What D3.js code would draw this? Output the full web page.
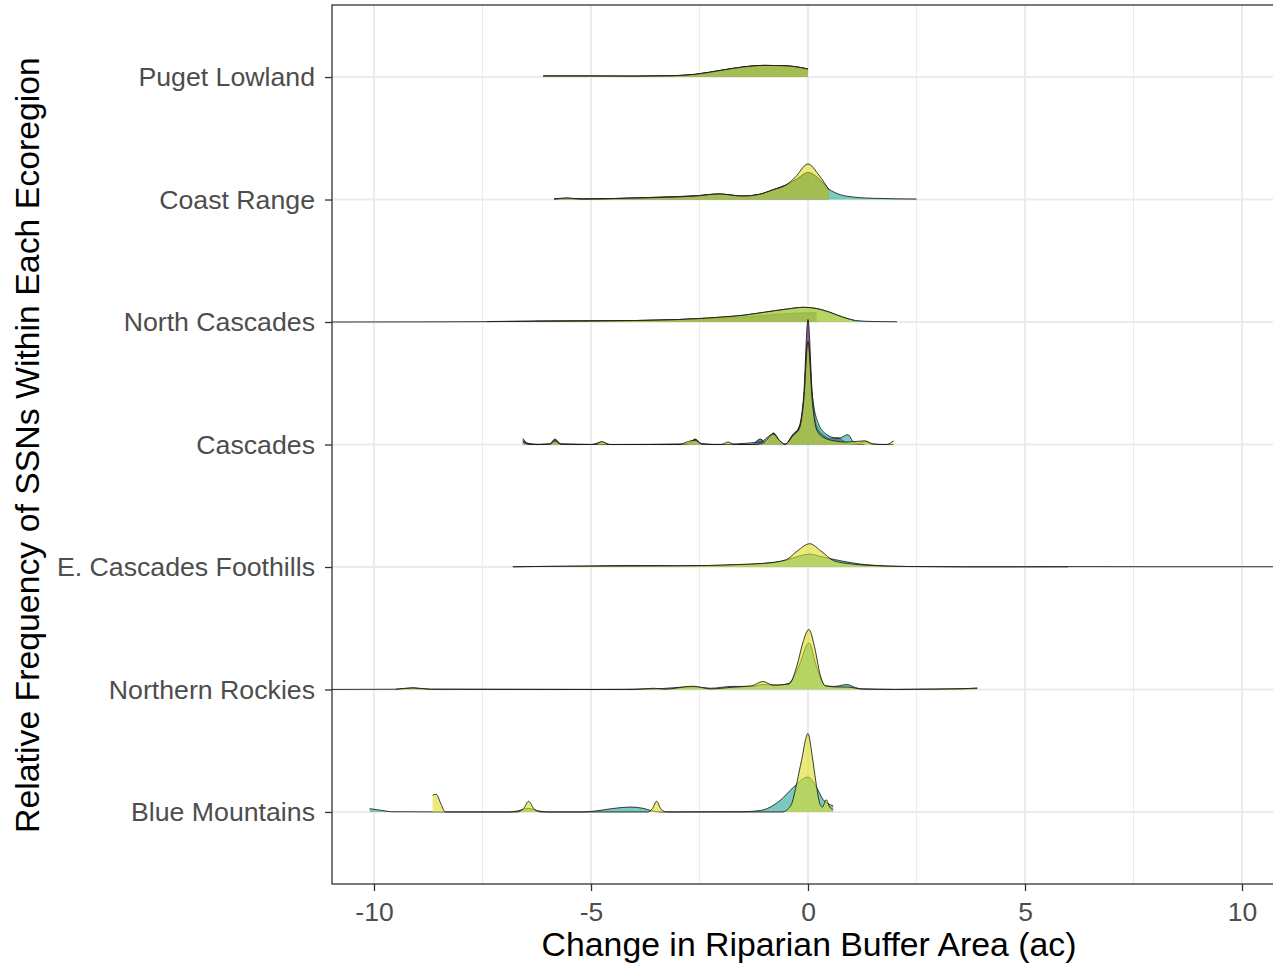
<!DOCTYPE html>
<html>
<head>
<meta charset="utf-8">
<script src="https://cdn.jsdelivr.net/npm/d3@7"></script>
<style>
  html, body { margin: 0; padding: 0; background: #fff; }
  svg { display: block; }
  text { font-family: "Liberation Sans", Arial, sans-serif; }
</style>
</head>
<body>
<svg id="chart" width="1273" height="967"></svg>
<script>
// ---------------- data ----------------
const regions = ["Puget Lowland", "Coast Range", "North Cascades", "Cascades",
                 "E. Cascades Foothills", "Northern Rockies", "Blue Mountains"];
const groups = ["Group 1", "Group 2", "Group 3"];
const groupColors = ["#440154", "#25A596", "#DEDE26"];
const xTicks = [-10, -5, 0, 5, 10];
const xMinorTicks = [-7.5, -2.5, 2.5, 7.5];

// density curves: [change (ac), height in ridge units]
const pugetCurve = [[-6.1,0.008],[-5,0.008],[-4,0.007],[-3.2,0.01],[-2.6,0.022],[-2,0.055],[-1.5,0.082],[-1,0.095],[-0.6,0.093],[-0.3,0.085],[0,0.065]];

const coastPurple = [[-5.85,0.004],[-5.55,0.01],[-5.2,0.004],[-4.6,0.007],[-3.6,0.017],[-2.6,0.03],[-2.05,0.045],[-1.5,0.028],[-1.15,0.04],[-0.8,0.08],[-0.5,0.12],[-0.25,0.17],[0,0.22],[0.25,0.17],[0.48,0.08]];
const coastTeal = [[-5.85,0.004],[-5.55,0.01],[-5.2,0.004],[-4.6,0.007],[-3.6,0.017],[-2.6,0.03],[-2.05,0.045],[-1.5,0.028],[-1.15,0.04],[-0.8,0.08],[-0.5,0.12],[-0.25,0.17],[0,0.22],[0.25,0.17],[0.48,0.085],[0.6,0.06],[0.9,0.027],[1.5,0.01],[2.5,0.004]];
const coastYellow = [[-5.85,0.004],[-5.55,0.013],[-5.2,0.004],[-4.6,0.007],[-3.6,0.015],[-2.6,0.028],[-2.05,0.045],[-1.5,0.028],[-1.15,0.04],[-0.8,0.08],[-0.5,0.12],[-0.3,0.18],[0,0.29],[0.25,0.2],[0.48,0.08]];

const ncPurple = [[-7.4,0.004],[-6.3,0.008],[-5,0.01],[-4,0.012],[-3,0.02],[-2,0.032],[-1.5,0.042],[-1,0.055],[-0.5,0.068],[0,0.075],[0.2,0.075]];
const ncTeal = [[-11,0],[-9,0.001],[-7.4,0.003],[-6.3,0.006],[-5,0.008],[-4,0.012],[-3,0.02],[-2,0.04],[-1.5,0.055],[-1,0.08],[-0.5,0.105],[-0.1,0.12],[0.2,0.11],[0.5,0.08],[0.8,0.04],[1.1,0.012],[1.5,0.004],[2.05,0.002]];
const ncYellow = [[-6.3,0.006],[-5,0.008],[-4,0.012],[-3,0.02],[-2,0.04],[-1.5,0.055],[-1,0.08],[-0.5,0.105],[-0.1,0.12],[0.2,0.11],[0.5,0.08],[0.8,0.04],[1.08,0.012]];

const casPurple = [[-6.57,0.05],[-6.45,0.01],[-6.2,0],[-5.95,0.005],[-5.83,0.045],[-5.7,0.005],[-5.3,0],[-3,0],[-2.75,0.005],[-2.6,0.045],[-2.45,0.005],[-2.2,0],[-1.3,0],[-1.1,0.045],[-0.95,0.01],[-0.8,0.095],[-0.65,0.03],[-0.53,0.002],[-0.35,0.08],[-0.2,0.15],[-0.1,0.4],[0,1.02],[0.1,0.4],[0.2,0.15],[0.35,0.08],[0.5,0.05],[0.7,0.055],[0.85,0.02],[1.0,0.005],[1.3,0]];
const casTeal = [[-6.57,0.03],[-6.45,0.005],[-6.2,0],[-5.95,0.003],[-5.83,0.03],[-5.7,0.003],[-5.0,0],[-4.75,0.02],[-4.55,0],[-2.8,0.005],[-2.6,0.04],[-2.45,0.005],[-2.2,0],[-1.1,0.02],[-0.8,0.085],[-0.65,0.03],[-0.53,0.002],[-0.35,0.08],[-0.2,0.14],[-0.1,0.35],[0,0.84],[0.1,0.4],[0.24,0.17],[0.4,0.09],[0.55,0.06],[0.7,0.05],[0.92,0.08],[1.05,0.02],[1.15,0.01],[1.31,0.025],[1.45,0.005],[1.6,0],[1.97,0]];
const casYellow = [[-6.57,0.02],[-6.4,0],[-5.95,0.003],[-5.83,0.03],[-5.7,0.003],[-4.9,0],[-4.75,0.025],[-4.6,0],[-2.95,0],[-2.8,0.02],[-2.6,0.035],[-2.45,0.005],[-2.0,0],[-1.84,0.02],[-1.7,0],[-1.2,0],[-1.0,0.02],[-0.8,0.085],[-0.65,0.03],[-0.53,0.002],[-0.35,0.07],[-0.2,0.13],[-0.1,0.35],[0,0.84],[0.1,0.35],[0.2,0.12],[0.35,0.06],[0.6,0.03],[0.9,0.02],[1.31,0.03],[1.5,0.005],[1.8,0],[1.97,0.03]];

const ecfPurple = [];
const ecfTeal = [[-6.8,0.002],[-6,0.005],[-5,0.008],[-4.3,0.012],[-3.7,0.012],[-3,0.01],[-2.3,0.012],[-1.64,0.018],[-1,0.03],[-0.5,0.055],[-0.2,0.09],[0.04,0.105],[0.3,0.085],[0.62,0.06],[1.0,0.035],[1.3,0.02],[2.3,0.004],[4,0.002],[6,0.003],[8,0.002],[11,0.002]];
const ecfYellow = [[-6.8,0.002],[-6,0.005],[-5,0.007],[-4,0.008],[-3,0.01],[-2.3,0.012],[-1.64,0.02],[-1,0.03],[-0.5,0.06],[-0.25,0.13],[0.04,0.19],[0.3,0.13],[0.6,0.05],[1.0,0.025],[1.3,0.015],[2.3,0.004],[3.5,0.001],[6,0.001]];

const nrPurple = [];
const nrTeal = [[-11,0],[-9.5,0.002],[-9.1,0.014],[-8.7,0.002],[-5,0],[-3.55,0.005],[-2.65,0.022],[-2.24,0.01],[-1.75,0.025],[-1.3,0.025],[-1.04,0.04],[-0.7,0.035],[-0.44,0.05],[-0.2,0.2],[0.02,0.38],[0.2,0.18],[0.4,0.03],[0.6,0.025],[0.9,0.04],[1.1,0.015],[1.25,0.005],[2,0.001],[3.5,0.004],[3.9,0.012]];
const nrYellow = [[-9.5,0.002],[-9.1,0.012],[-8.7,0.002],[-4,0],[-3.55,0.01],[-3.3,0.002],[-2.65,0.027],[-2.24,0.005],[-1.75,0.018],[-1.3,0.03],[-1.04,0.065],[-0.8,0.035],[-0.44,0.045],[-0.25,0.2],[-0.12,0.38],[0.02,0.49],[0.15,0.35],[0.28,0.12],[0.4,0.03],[0.7,0.02],[0.9,0.02],[1.25,0.003],[2,0],[3.9,0.01]];

const bmPurple = [];
const bmTeal = [[-10.1,0.027],[-9.8,0.012],[-9.6,0.002],[-8,0],[-6.9,0],[-6.7,0.008],[-6.45,0.03],[-6.2,0.008],[-6.0,0],[-5.2,0],[-4.9,0.008],[-4.5,0.028],[-4.1,0.04],[-3.8,0.03],[-3.6,0.01],[-3.4,0],[-1.5,0.002],[-1.1,0.012],[-0.64,0.095],[-0.34,0.2],[0,0.285],[0.2,0.2],[0.35,0.1],[0.45,0.07],[0.58,0.05]];
const bmYellow = [[-8.65,0.136],[-8.57,0.145],[-8.45,0.06],[-8.36,0],[-6.7,0],[-6.55,0.03],[-6.44,0.087],[-6.3,0.02],[-6.15,0],[-3.7,0],[-3.58,0.03],[-3.49,0.087],[-3.38,0.02],[-3.25,0],[-0.6,0],[-0.4,0.05],[-0.25,0.25],[-0.15,0.42],[0,0.64],[0.1,0.45],[0.18,0.25],[0.28,0.06],[0.33,0.04],[0.42,0.1],[0.5,0.04],[0.58,0.02]];

const curves = {
  "Puget Lowland": [pugetCurve, pugetCurve, pugetCurve],
  "Coast Range": [coastPurple, coastTeal, coastYellow],
  "North Cascades": [ncPurple, ncTeal, ncYellow],
  "Cascades": [casPurple, casTeal, casYellow],
  "E. Cascades Foothills": [ecfPurple, ecfTeal, ecfYellow],
  "Northern Rockies": [nrPurple, nrTeal, nrYellow],
  "Blue Mountains": [bmPurple, bmTeal, bmYellow]
};

// ---------------- layout ----------------
const svg = d3.select("#chart");
const panel = { left: 332, top: 5, right: 1273, bottom: 884 };

const x = d3.scaleLinear().domain([-10, 10]).range([374, 1242]);
// ridge positions: Blue Mountains = 1 ... Puget Lowland = 7
const pos = d3.scaleOrdinal().domain(regions).range(regions.map((d, i) => regions.length - i));
const y = d3.scaleLinear().domain([0.412, 7.588]).range([panel.bottom, panel.top]);

const defs = svg.append("defs");
defs.append("clipPath").attr("id", "clip")
  .append("rect")
  .attr("x", panel.left).attr("y", panel.top)
  .attr("width", panel.right - panel.left + 2).attr("height", panel.bottom - panel.top);

// grid
const grid = svg.append("g");
grid.selectAll("line.minor").data(xMinorTicks).join("line")
  .attr("x1", d => x(d)).attr("x2", d => x(d))
  .attr("y1", panel.top).attr("y2", panel.bottom)
  .attr("stroke", "#ebebeb").attr("stroke-width", 1);
grid.selectAll("line.major").data(xTicks).join("line")
  .attr("x1", d => x(d)).attr("x2", d => x(d))
  .attr("y1", panel.top).attr("y2", panel.bottom)
  .attr("stroke", "#ebebeb").attr("stroke-width", 2);
grid.selectAll("line.h").data(regions).join("line")
  .attr("x1", panel.left).attr("x2", panel.right + 2)
  .attr("y1", d => y(pos(d))).attr("y2", d => y(pos(d)))
  .attr("stroke", "#ebebeb").attr("stroke-width", 2);

// ridges
const ridges = svg.append("g").attr("clip-path", "url(#clip)");
regions.forEach(r => {
  const base = pos(r);
  const area = d3.area().curve(d3.curveMonotoneX)
    .x(d => x(d[0])).y0(y(base)).y1(d => y(base + d[1]));
  const line = d3.line().curve(d3.curveMonotoneX)
    .x(d => x(d[0])).y(d => y(base + d[1]));
  curves[r].forEach((data, gi) => {
    if (!data.length) return;
    ridges.append("path").datum(data)
      .attr("d", area)
      .attr("fill", groupColors[gi]).attr("fill-opacity", 0.6)
      .attr("stroke", "none");
    ridges.append("path").datum(data)
      .attr("d", line)
      .attr("fill", "none").attr("stroke", "#1a1a1a")
      .attr("stroke-opacity", 0.85).attr("stroke-width", 1);
  });
});

// panel border
svg.append("rect")
  .attr("x", panel.left).attr("y", panel.top)
  .attr("width", panel.right - panel.left + 5).attr("height", panel.bottom - panel.top)
  .attr("fill", "none").attr("stroke", "#333").attr("stroke-width", 1.3);

// x axis
const xAxis = svg.append("g").attr("transform", `translate(0,${panel.bottom})`)
  .call(d3.axisBottom(x).tickValues(xTicks).tickSize(7).tickPadding(11).tickFormat(d => String(d)));
xAxis.select(".domain").remove();
xAxis.selectAll(".tick line").attr("stroke", "#333").attr("stroke-width", 1.3);
xAxis.selectAll(".tick text")
  .attr("fill", "#4d4d4d").style("font-size", "26.5px")
  .style("font-family", "Liberation Sans, Arial, sans-serif");

// y axis
const yAxis = svg.append("g").attr("transform", `translate(${panel.left},0)`)
  .call(d3.axisLeft(d3.scaleLinear().domain(y.domain()).range(y.range()))
    .tickValues(regions.map(r => pos(r)))
    .tickFormat(v => regions[regions.length - v])
    .tickSize(7).tickPadding(10));
yAxis.select(".domain").remove();
yAxis.selectAll(".tick line").attr("stroke", "#333").attr("stroke-width", 1.3);
yAxis.selectAll(".tick text")
  .attr("fill", "#4d4d4d").style("font-size", "26.7px")
  .style("font-family", "Liberation Sans, Arial, sans-serif");

// titles
svg.append("text")
  .attr("x", 809).attr("y", 956)
  .attr("text-anchor", "middle")
  .style("font-size", "33.8px")
  .attr("fill", "#000")
  .text("Change in Riparian Buffer Area (ac)");
svg.append("text")
  .attr("transform", "translate(39,445) rotate(-90)")
  .attr("text-anchor", "middle")
  .style("font-size", "33.8px")
  .attr("fill", "#000")
  .text("Relative Frequency of SSNs Within Each Ecoregion");
</script>
</body>
</html>
